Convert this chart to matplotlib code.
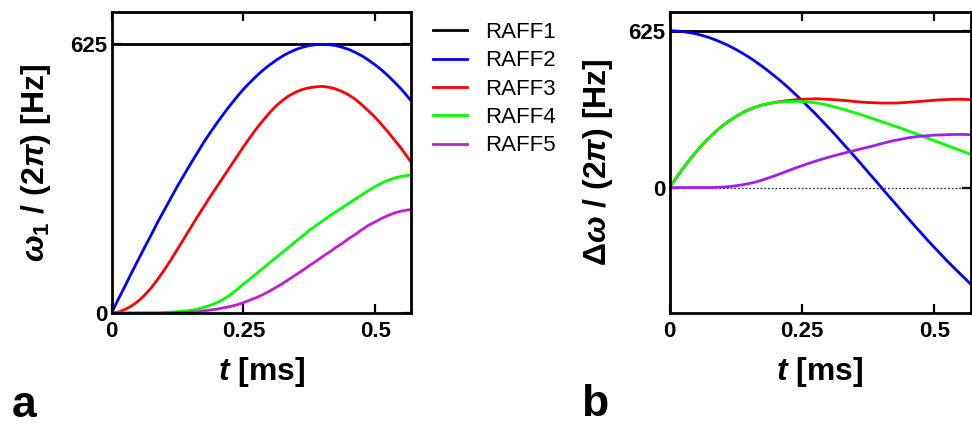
import matplotlib
matplotlib.use("Agg")
import matplotlib.pyplot as plt

plt.rcParams['font.family'] = ['Liberation Sans', 'DejaVu Sans']
plt.rcParams['mathtext.fontset'] = 'custom'
plt.rcParams['mathtext.rm'] = 'Liberation Sans:bold'
plt.rcParams['mathtext.it'] = 'Liberation Sans:italic:bold'
plt.rcParams['mathtext.bf'] = 'Liberation Sans:bold'

# time axis [ms]
t_ms = [0, 0.0125, 0.025, 0.0375, 0.05, 0.0625, 0.075, 0.0875, 0.1, 0.1125,
        0.125, 0.1375, 0.15, 0.1625, 0.175, 0.1875, 0.2, 0.2125, 0.225, 0.2375,
        0.25, 0.2625, 0.275, 0.2875, 0.3, 0.3125, 0.325, 0.3375, 0.35, 0.3625,
        0.375, 0.3875, 0.4, 0.4125, 0.425, 0.4375, 0.45, 0.4625, 0.475, 0.4875,
        0.5, 0.5125, 0.525, 0.5375, 0.55, 0.568]

W_MAX = 625

# panel a: w1/(2pi) [Hz]
w1_raff2 = [0, 31, 61, 92, 122, 152, 181, 211, 239, 267, 295, 321, 347, 372, 397, 420,
            442, 463, 483, 502, 520, 536, 551, 565, 577, 588, 598, 606, 613, 618, 622,
            624, 625, 624, 622, 618, 613, 606, 598, 588, 577, 565, 551, 536, 520, 494]
w1_raff3 = [0, 2, 8, 16, 27, 41, 58, 78, 100, 123, 148, 173, 198, 223, 247, 271,
            294, 317, 340, 363, 386, 408, 429, 448, 466, 482, 495, 506, 514, 520, 524,
            526, 527, 525, 521, 515, 507, 497, 484, 470, 455, 438, 420, 401, 382, 351]
w1_raff4 = [0, 0, 0, 0, 0, 0, 0, 0, 1, 2, 3, 4, 6, 9, 13, 18,
            24, 32, 42, 54, 67, 79, 92, 104, 117, 129, 142, 154, 167, 179, 192,
            203, 214, 225, 235, 245, 255, 265, 275, 285, 294, 302, 309, 314, 318, 321]
w1_raff5 = [0, 0, 0, 0, 0, 0, 0, 0, 0, 0, 1, 1, 2, 3, 5, 7,
            9, 12, 15, 19, 24, 30, 36, 43, 51, 60, 69, 79, 89, 99, 110,
            120, 131, 141, 152, 162, 173, 183, 194, 204, 212, 220, 227, 233, 237, 241]

# panel b: dw/(2pi) [Hz]
dw_raff2 = [625, 624, 622, 618, 613, 606, 598, 588, 577, 565, 551, 536, 520, 502, 483, 463,
            442, 420, 397, 372, 347, 321, 295, 267, 239, 211, 181, 152, 122, 92, 61,
            31, 0, -31, -61, -92, -122, -152, -181, -211, -239, -267, -295, -321, -347, -384]
dw_raff3 = [0, 38, 75, 110, 142, 172, 199, 224, 246, 266, 283, 298, 311, 321, 329, 335,
            340, 344, 347, 350, 352, 353, 354, 353, 352, 350, 348, 346, 343, 341, 339,
            338, 337, 337, 337, 338, 340, 342, 344, 346, 348, 350, 351, 352, 352, 351]
dw_raff4 = [0, 38, 75, 110, 142, 172, 199, 224, 246, 266, 283, 298, 311, 321, 329, 335,
            339, 342, 343, 344, 343, 341, 338, 334, 328, 321, 314, 306, 298, 290, 281,
            272, 263, 254, 245, 236, 226, 217, 207, 197, 187, 177, 167, 157, 147, 133]
dw_raff5 = [0, 0, 0, 0, 0, 0, 0, 1, 2, 4, 7, 11, 16, 22, 30, 39,
            48, 58, 68, 78, 87, 96, 105, 113, 121, 128, 135, 142, 148, 155, 161,
            168, 175, 182, 188, 193, 198, 202, 205, 207, 209, 210, 211, 212, 212, 211]

labels = ['RAFF1', 'RAFF2', 'RAFF3', 'RAFF4', 'RAFF5']
colors = ['#000000', '#0000FF', '#FF0000', '#00FF00', '#C01ED0']
purple_b = '#A01EF0'

LW = 2.0

fig = plt.figure(figsize=(9.72, 4.26), dpi=100)
axa = fig.add_axes([111.5/972, 113/426, 299.5/972, 301/426])
axb = fig.add_axes([669.5/972, 113/426, 301/972, 301/426])


def style(ax):
    ax.set_xlim(0, 0.568)
    ax.set_xticks([0, 0.25, 0.5])
    ax.set_xticklabels(['0', '0.25', '0.5'])
    for s in ax.spines.values():
        s.set_linewidth(2.0)
    ax.tick_params(direction='in', length=6.5, width=1.6, top=True, right=True,
                   labelsize=16)
    ax.tick_params(axis='x', pad=5.5)
    ax.tick_params(axis='y', pad=3)
    for lab in ax.get_xticklabels() + ax.get_yticklabels():
        lab.set_fontweight('bold')
    ax.set_xlabel('$t$ [ms]', fontsize=23, fontweight='bold')
    ax.xaxis.set_label_coords(0.5, -0.14)


# panel a
handles = []
h, = axa.plot([0, 0.568], [W_MAX, W_MAX], color=colors[0], lw=LW)
handles.append(h)
for ys, c in zip([w1_raff2, w1_raff3, w1_raff4, w1_raff5], colors[1:]):
    h, = axa.plot(t_ms, ys, color=c, lw=LW)
    handles.append(h)
axa.set_ylim(0, 700)
axa.set_yticks([0, 625])
style(axa)
axa.set_ylabel(r'$\omega_1$ / (2$\pi$) [Hz]', fontsize=23, fontweight='bold')
axa.yaxis.set_label_coords(-0.195, 0.5)

# panel b
axb.axhline(W_MAX, color='black', lw=LW)
axb.axhline(0, color='#333333', lw=0.9, ls=(0, (1.5, 1.5)))
axb.plot(t_ms, dw_raff2, color=colors[1], lw=LW)
axb.plot(t_ms, dw_raff3, color=colors[2], lw=LW)
axb.plot(t_ms, dw_raff4, color=colors[3], lw=LW)
axb.plot(t_ms, dw_raff5, color=purple_b, lw=LW)
axb.set_ylim(-500, 700)
axb.set_yticks([0, 625])
style(axb)
axb.set_ylabel(r'$\Delta\omega$ / (2$\pi$) [Hz]', fontsize=23, fontweight='bold')
axb.yaxis.set_label_coords(-0.181, 0.5)

fig.legend(handles, labels, loc='upper left', bbox_to_anchor=(433/972, 1 - 22/426),
           frameon=False, fontsize=16, handlelength=1.55, handletextpad=0.8,
           labelspacing=0.33, borderpad=0, borderaxespad=0)

fig.text(12/972, 1 - 417/426, 'a', fontsize=32, fontweight='bold')
fig.text(581/972, 1 - 416/426, 'b', fontsize=32, fontweight='bold')

fig.savefig('out.png', dpi=100)
